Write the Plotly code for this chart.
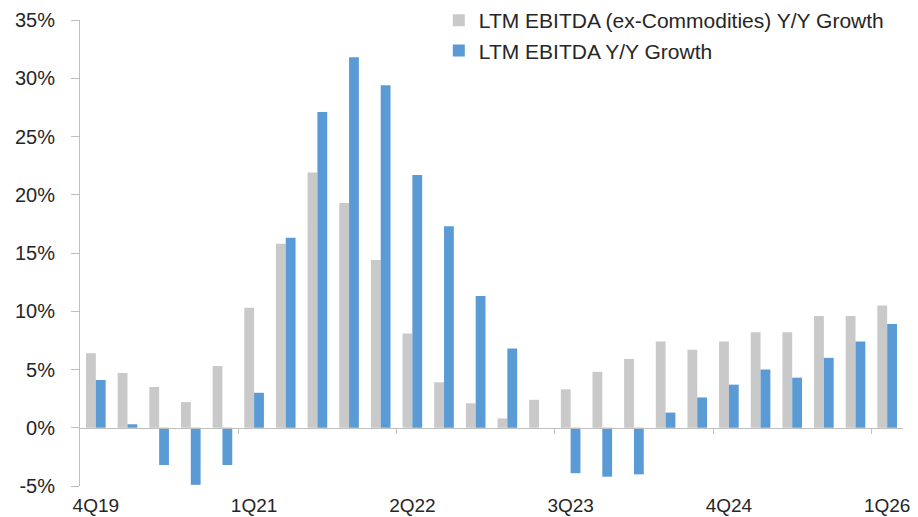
import plotly.graph_objects as go

# Quarterly periods, 4Q19 through 1Q26
quarters = [
    "4Q19", "1Q20", "2Q20", "3Q20", "4Q20",
    "1Q21", "2Q21", "3Q21", "4Q21", "1Q22",
    "2Q22", "3Q22", "4Q22", "1Q23", "2Q23",
    "3Q23", "4Q23", "1Q24", "2Q24", "3Q24",
    "4Q24", "1Q25", "2Q25", "3Q25", "4Q25",
    "1Q26",
]

# LTM EBITDA growth, ex-commodities (%)
ex_commodities = [
    6.4, 4.7, 3.5, 2.2, 5.3,
    10.3, 15.8, 21.9, 19.3, 14.4,
    8.1, 3.9, 2.1, 0.8, 2.4,
    3.3, 4.8, 5.9, 7.4, 6.7,
    7.4, 8.2, 8.2, 9.6, 9.6,
    10.5,
]

# LTM EBITDA growth, total (%)
total = [
    4.1, 0.3, -3.2, -4.9, -3.2,
    3.0, 16.3, 27.1, 31.8, 29.4,
    21.7, 17.3, 11.3, 6.8, 0.0,
    -3.9, -4.2, -4.0, 1.3, 2.6,
    3.7, 5.0, 4.3, 6.0, 7.4,
    8.9,
]

# Labelled quarters and the tick positions at the boundaries before them
label_quarters = ["4Q19", "1Q21", "2Q22", "3Q23", "4Q24", "1Q26"]
boundary_ticks = [4.5, 9.5, 14.5, 19.5, 24.5]
y_ticks = [-5, 0, 5, 10, 15, 20, 25, 30, 35]

FONT = "Liberation Sans, Arial, sans-serif"
TEXT = "#262626"
AXIS_GREY = "#bfbfbf"

fig = go.Figure()
fig.add_trace(go.Bar(
    x=quarters, y=ex_commodities,
    name="LTM EBITDA (ex-Commodities) Y/Y Growth",
    legendgroup="ex", marker=dict(color="#c9c9c9", line=dict(width=0)),
))
fig.add_trace(go.Bar(
    x=quarters, y=total,
    name="LTM EBITDA Y/Y Growth",
    legendgroup="tot", marker=dict(color="#5b9bd5", line=dict(width=0)),
))

# invisible helper trace so the overlay axis (zero line + boundary ticks) is drawn
fig.add_trace(go.Scatter(
    x=[-0.5, 25.5], y=[0, 0], xaxis="x2", yaxis="y",
    mode="lines", line=dict(width=0), hoverinfo="skip", showlegend=False,
))

fig.update_layout(
    width=918, height=517,
    margin=dict(l=80, r=15, t=20, b=31, autoexpand=False),
    paper_bgcolor="white", plot_bgcolor="white",
    barmode="group", bargap=0.38, bargroupgap=0.0,
    font=dict(family=FONT, size=20, color=TEXT),
    legend=dict(
        xref="container", yref="container",
        x=0.478, y=1.0, xanchor="left", yanchor="top",
        bgcolor="rgba(0,0,0,0)", font=dict(size=21, color=TEXT),
        traceorder="grouped", tracegroupgap=0, itemwidth=30,
    ),
    xaxis=dict(
        type="category", range=[-0.5, 25.5], automargin=False,
        tickmode="array", tickvals=label_quarters, ticktext=label_quarters,
        ticks="", showline=False, showgrid=False, zeroline=False,
        ticklabelstandoff=6,
        tickfont=dict(size=19, color=TEXT),
    ),
    xaxis2=dict(
        overlaying="x", anchor="free", position=5 / 40, automargin=False,
        range=[-0.5, 25.5], tickmode="array", tickvals=boundary_ticks,
        ticks="outside", ticklen=5, tickcolor=AXIS_GREY, tickwidth=1,
        showticklabels=False, showline=True, linecolor=AXIS_GREY, linewidth=1,
        showgrid=False, zeroline=False,
    ),
    yaxis=dict(
        range=[-5, 35], automargin=False,
        tickmode="array", tickvals=y_ticks,
        ticktext=[f"{v}%" for v in y_ticks],
        ticks="outside", ticklen=8, tickcolor=AXIS_GREY, tickwidth=1,
        showline=True, linecolor=AXIS_GREY, linewidth=1,
        showgrid=False, zeroline=False,
        ticklabelstandoff=12,
        tickfont=dict(size=20, color=TEXT),
    ),
)

fig.write_html("out.html")
